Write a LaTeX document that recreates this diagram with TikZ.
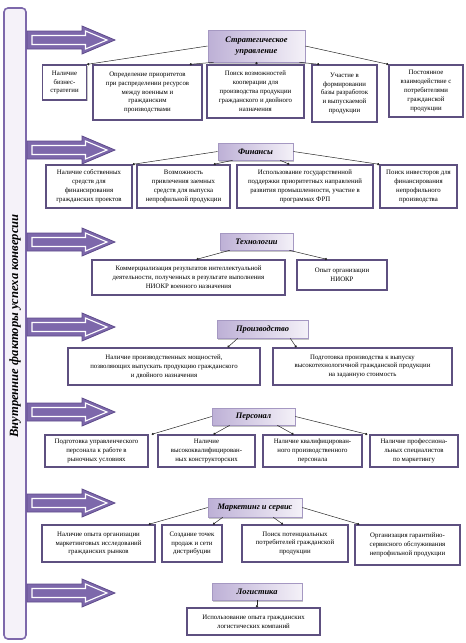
\documentclass[tikz,border=0pt]{standalone}
\usepackage{fontspec}
\setmainfont{Liberation Serif}
\usetikzlibrary{shadows,arrows.meta}
\definecolor{arrfill}{HTML}{7D68AB}
\definecolor{arrdark}{HTML}{5E4B8B}
\definecolor{barfill}{HTML}{F5F2F9}
\definecolor{boxc}{HTML}{5E5080}
\definecolor{hdrl}{HTML}{BDB0D6}
\definecolor{hdrr}{HTML}{F4F1F8}
\definecolor{hdrc}{HTML}{A598C2}
\tikzset{
  box/.style={draw=boxc, line width=1.3pt, fill=white, align=center, inner sep=1pt,
    font=\fontsize{6.8}{8.9}\selectfont,
    drop shadow={shadow xshift=1.2pt, shadow yshift=-1.2pt, fill=black!45, opacity=0.5}},
  hdr/.style={draw=hdrc, line width=0.6pt, left color=hdrl, right color=hdrr, align=center, inner sep=1pt,
    font=\fontsize{8.4}{10.5}\selectfont\bfseries\itshape,
    drop shadow={shadow xshift=1.2pt, shadow yshift=-1.5pt, fill=black!45, opacity=0.5}},
  conn/.style={line width=0.5pt, draw=black!85, -{Circle[length=2.3pt]}},
}
\newcommand\bigarrow[1]{%
  \filldraw[fill=arrfill, draw=arrdark, line width=0.8pt, line join=miter]
    (27,#1-9) -- (82,#1-9) -- (82,#1-14) -- (115,#1) -- (82,#1+14) -- (82,#1+9) -- (27,#1+9) -- cycle;
  \draw[white, line width=1.1pt, line join=miter]
    (32,#1-4.5) -- (85.5,#1-4.5) -- (85.5,#1-9) -- (107,#1) -- (85.5,#1+9) -- (85.5,#1+4.5) -- (32,#1+4.5) -- cycle;}
\begin{document}
\begin{tikzpicture}[x=1pt,y=-1pt]
\useasboundingbox (0,0) rectangle (466,643);
% left bar
\draw[draw=arrfill, line width=1.6pt, fill=barfill, rounded corners=4pt] (4,8) rectangle (26,639);
\node[rotate=90, font=\fontsize{12.6}{14}\selectfont\bfseries\itshape] (bartext) at (15,326) {Внутренние факторы успеха конверсии};
% arrows
\bigarrow{40}
\bigarrow{150}
\bigarrow{242}
\bigarrow{327}
\bigarrow{412}
\bigarrow{503}
\bigarrow{593}

% Row 1
\node[hdr, minimum width=97pt, minimum height=32pt] (h1) at (256.5,46) {Стратегическое\\управление};
\node[box, minimum width=44pt, minimum height=35pt] (b11) at (64.5,82.5) {Наличие\\бизнес-\\стратегии};
\node[box, minimum width=109pt, minimum height=55pt] (b12) at (147.5,92.5) {Определение приоритетов\\при распределении ресурсов\\между военным и\\гражданским\\производствами};
\node[box, minimum width=97pt, minimum height=53pt] (b13) at (255.5,91.5) {Поиск возможностей\\кооперации для\\производства продукции\\гражданского и двойного\\назначения};
\node[box, minimum width=65pt, minimum height=57pt] (b14) at (344.5,93.5) {Участие в\\формировании\\базы разработок\\и выпускаемой\\продукции};
\node[box, minimum width=74pt, minimum height=52pt] (b15) at (426,91) {Постоянное\\взаимодействие с\\потребителями\\гражданской\\продукции};
\draw[conn] (h1.west) -- (b11.north east);
\draw[conn] ([xshift=6pt]h1.south west) -- ([xshift=-13pt]b12.north east);
\draw[conn] (h1.south) -- (h1.south |- b13.north);
\draw[conn] ([xshift=-6pt]h1.south east) -- ([xshift=8pt]b14.north west);
\draw[conn] (h1.east) -- (b15.north west);

% Row 2
\node[hdr, minimum width=75pt, minimum height=17pt] (h2) at (255.5,151.5) {Финансы};
\node[box, minimum width=86pt, minimum height=43pt] (b21) at (89,186.5) {Наличие собственных\\средств для\\финансирования\\гражданских проектов};
\node[box, minimum width=93pt, minimum height=43pt] (b22) at (183.5,186.5) {Возможность\\привлечения заемных\\средств для выпуска\\непрофильной продукции};
\node[box, minimum width=136pt, minimum height=43pt] (b23) at (305,186.5) {Использование государственной\\поддержки приоритетных направлений\\развития промышленности, участие в\\программах ФРП};
\node[box, minimum width=77pt, minimum height=43pt] (b24) at (418.5,186.5) {Поиск инвесторов для\\финансирования\\непрофильного\\производства};
\draw[conn] (h2.west) -- (b21.north east);
\draw[conn] ([xshift=15pt]h2.south west) -- ([xshift=-17pt]b22.north east);
\draw[conn] ([xshift=-13pt]h2.south east) -- ([xshift=53pt]b23.north west);
\draw[conn] (h2.east) -- (b24.north west);

% Row 3
\node[hdr, minimum width=73pt, minimum height=17pt] (h3) at (256.5,241.5) {Технологии};
\node[box, minimum width=193pt, minimum height=35pt] (b31) at (188.5,277.5) {Коммерциализация результатов интеллектуальной\\деятельности, полученных в результате выполнения\\НИОКР военного назначения};
\node[box, minimum width=90pt, minimum height=30pt] (b32) at (342,275) {Опыт организации\\НИОКР};
\draw[conn] ([xshift=10pt]h3.south west) -- ([xshift=8pt]b31.north);
\draw[conn] ([xshift=-4pt]h3.south east) -- ([xshift=-15pt]b32.north);

% Row 4
\node[hdr, minimum width=91pt, minimum height=18pt] (h4) at (262.5,329) {Производство};
\node[box, minimum width=192pt, minimum height=37pt] (b41) at (164,366.5) {Наличие производственных мощностей,\\позволяющих выпускать продукцию гражданского\\и двойного назначения};
\node[box, minimum width=179pt, minimum height=37pt] (b42) at (362.5,366.5) {Подготовка производства к выпуску\\высокотехнологичной гражданской продукции\\на заданную стоимость};
\draw[conn] ([xshift=21pt]h4.south west) -- ([xshift=-33pt]b41.north east);
\draw[conn] ([xshift=-18pt]h4.south east) -- ([xshift=24pt]b42.north west);

% Row 5
\node[hdr, minimum width=83pt, minimum height=17pt] (h5) at (253.5,416.5) {Персонал};
\node[box, minimum width=103pt, minimum height=32pt] (b51) at (96.5,451) {Подготовка управленческого\\персонала к работе в\\рыночных условиях};
\node[box, minimum width=97pt, minimum height=32pt] (b52) at (206.5,451) {Наличие\\высококвалифицирован-\\ных конструкторских};
\node[box, minimum width=99pt, minimum height=32pt] (b53) at (312.5,451) {Наличие квалифицирован-\\ного производственного\\персонала};
\node[box, minimum width=88pt, minimum height=32pt] (b54) at (414,451) {Наличие профессиона-\\льных специалистов\\по маркетингу};
\draw[conn] (h5.west) -- ([xshift=3pt]b51.north east);
\draw[conn] ([xshift=18pt]h5.south west) -- ([xshift=7pt]b52.north);
\draw[conn] ([xshift=-18pt]h5.south east) -- ([xshift=-19pt]b53.north);
\draw[conn] (h5.east) -- ([xshift=-2pt]b54.north west);

% Row 6
\node[hdr, minimum width=94pt, minimum height=19pt] (h6) at (255,507.5) {Маркетинг и сервис};
\node[box, minimum width=113pt, minimum height=37pt] (b61) at (98.5,543.5) {Наличие опыта организации\\маркетинговых исследований\\гражданских рынков};
\node[box, minimum width=60pt, minimum height=37pt] (b62) at (192,543.5) {Создание точек\\продаж и сети\\дистрибуции};
\node[box, minimum width=106pt, minimum height=37pt] (b63) at (295,543.5) {Поиск потенциальных\\потребителей гражданской\\продукции};
\node[box, minimum width=105pt, minimum height=40pt] (b64) at (407.5,545) {Организация гарантийно-\\сервисного обслуживания\\непрофильной продукции};
\draw[conn] (h6.west) -- ([xshift=-7pt]b61.north east);
\draw[conn] ([xshift=15pt]h6.south west) -- ([xshift=21pt]b62.north);
\draw[conn] ([xshift=-29pt]h6.south east) -- ([xshift=-12pt]b63.north);
\draw[conn] (h6.east) -- ([xshift=5pt]b64.north west);

% Row 7
\node[hdr, minimum width=90pt, minimum height=17pt] (h7) at (257,591.5) {Логистика};
\node[box, minimum width=133pt, minimum height=27pt] (b71) at (253.5,621.5) {Использование опыта гражданских\\логистических компаний};
\draw[conn] (h7.south) -- (h7.south |- b71.north);
\end{tikzpicture}
\end{document}
